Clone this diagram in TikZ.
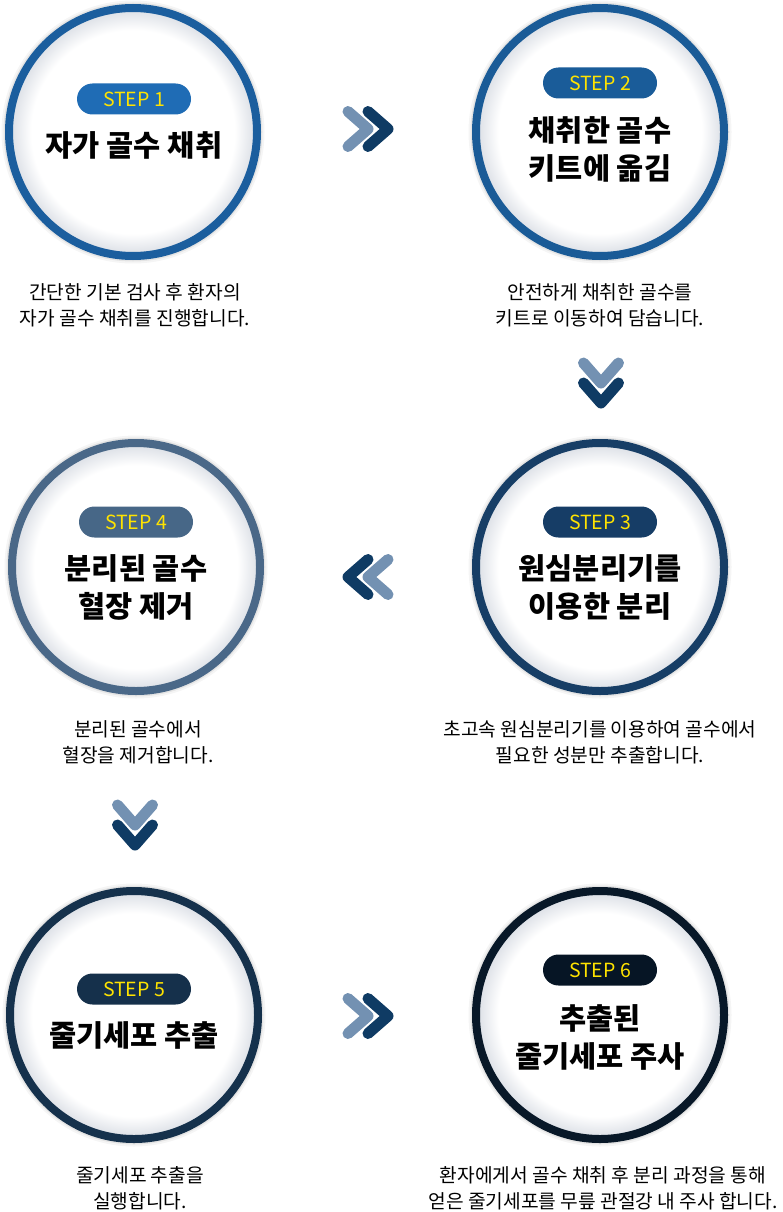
\documentclass[tikz,border=0pt]{standalone}
\usepackage{fontspec}
\setmainfont{Noto Sans CJK KR}

\definecolor{ringone}{HTML}{1B5E9E}
\definecolor{pillone}{HTML}{1F6CB5}
\definecolor{ringtwo}{HTML}{1A5B97}
\definecolor{pilltwo}{HTML}{1A5C99}
\definecolor{ringthree}{HTML}{173E66}
\definecolor{pillthree}{HTML}{163D66}
\definecolor{ringfour}{HTML}{4A6888}
\definecolor{pillfour}{HTML}{476787}
\definecolor{ringfive}{HTML}{15314C}
\definecolor{pillfive}{HTML}{15304B}
\definecolor{ringsix}{HTML}{081828}
\definecolor{pillsix}{HTML}{061525}
\definecolor{stepyellow}{HTML}{FFE300}
\definecolor{chevpale}{HTML}{7391B2}
\definecolor{chevnavy}{HTML}{0F3B64}
\definecolor{glowedge}{HTML}{D9DDE4}

\pgfdeclareradialshading{innerglow}{\pgfpointorigin}{color(0bp)=(white); color(20.5bp)=(white); color(25bp)=(glowedge); color(50bp)=(glowedge)}

\begin{document}
\begin{tikzpicture}[x=1pt,y=-1pt,line cap=round,line join=round,
  ring/.style={circle,minimum size=248pt,line width=8pt,shade,shading=innerglow,
    preaction={draw=black,line width=15pt,opacity=0.04},
    preaction={draw=black,line width=11pt,opacity=0.07}},
  stepbox/.style={rounded corners=15.5pt,minimum width=114pt,minimum height=31pt,inner sep=0pt,
    text=stepyellow,font=\fontsize{19.5}{21}\selectfont},
  title/.style={align=center,font=\fontsize{29.5}{38}\selectfont\bfseries},
  desc/.style={align=center,font=\fontsize{19.2}{26}\selectfont},
  chevback/.style={draw=chevpale,line width=11pt},
  chevfront/.style={draw=chevnavy,line width=11pt}]
\useasboundingbox (0,0) rectangle (783,1212);
\coordinate (c1) at (133,132);
\coordinate (c2) at (600,132);
\coordinate (c3) at (600,567);
\coordinate (c4) at (136,567);
\coordinate (c5) at (134,1015);
\coordinate (c6) at (600,1015);
% step 1
\node[ring,draw=ringone] (circ1) at (c1) {};
\node[stepbox,fill=pillone] (step1) at (134,99) {STEP 1};
\node[title] (title1) at (134,145) {자가 골수 채취};
\node[desc] (desc1) at (135,305) {간단한 기본 검사 후 환자의\\자가 골수 채취를 진행합니다.};
% step 2
\node[ring,draw=ringtwo] (circ2) at (c2) {};
\node[stepbox,fill=pilltwo] (step2) at (600,83) {STEP 2};
\node[title] (title2) at (600,149) {채취한 골수\\키트에 옮김};
\node[desc] (desc2) at (600,305) {안전하게 채취한 골수를\\키트로 이동하여 담습니다.};
% step 3
\node[ring,draw=ringthree] (circ3) at (c3) {};
\node[stepbox,fill=pillthree] (step3) at (600,522) {STEP 3};
\node[title] (title3) at (600,587) {원심분리기를\\이용한 분리};
\node[desc] (desc3) at (600,742) {초고속 원심분리기를 이용하여 골수에서\\필요한 성분만 추출합니다.};
% step 4
\node[ring,draw=ringfour] (circ4) at (c4) {};
\node[stepbox,fill=pillfour] (step4) at (136,522) {STEP 4};
\node[title] (title4) at (136,587) {분리된 골수\\혈장 제거};
\node[desc] (desc4) at (138,742) {분리된 골수에서\\혈장을 제거합니다.};
% step 5
\node[ring,draw=ringfive] (circ5) at (c5) {};
\node[stepbox,fill=pillfive] (step5) at (134,989) {STEP 5};
\node[title] (title5) at (134,1035) {줄기세포 추출};
\node[desc] (desc5) at (140,1188) {줄기세포 추출을\\실행합니다.};
% step 6
\node[ring,draw=ringsix] (circ6) at (c6) {};
\node[stepbox,fill=pillsix] (step6) at (600,970) {STEP 6};
\node[title] (title6) at (600,1037) {추출된\\줄기세포 주사};
\node[desc] (desc6) at (603,1188) {환자에게서 골수 채취 후 분리 과정을 통해\\얻은 줄기세포를 무릎 관절강 내 주사 합니다.};
% chevrons
\coordinate (go12) at (368,129);
\coordinate (go23) at (601,383);
\coordinate (go34) at (348,577);
\coordinate (go45) at (135,825);
\coordinate (go56) at (368,1016);
\draw[chevback,shift={(go12)}] (-20,-17.5) -- (0,0) -- (-20,17.5);
\draw[chevfront,shift={(go12)}] (0,-17.5) -- (20,0) -- (0,17.5);
\draw[chevback,shift={(go23)}] (-17.5,-20) -- (0,0) -- (17.5,-20);
\draw[chevfront,shift={(go23)}] (-17.5,0) -- (0,20) -- (17.5,0);
\draw[chevback,shift={(go34)}] (40,-17.5) -- (20,0) -- (40,17.5);
\draw[chevfront,shift={(go34)}] (20,-17.5) -- (0,0) -- (20,17.5);
\draw[chevback,shift={(go45)}] (-17.5,-20) -- (0,0) -- (17.5,-20);
\draw[chevfront,shift={(go45)}] (-17.5,0) -- (0,20) -- (17.5,0);
\draw[chevback,shift={(go56)}] (-20,-17.5) -- (0,0) -- (-20,17.5);
\draw[chevfront,shift={(go56)}] (0,-17.5) -- (20,0) -- (0,17.5);
\end{tikzpicture}
\end{document}
